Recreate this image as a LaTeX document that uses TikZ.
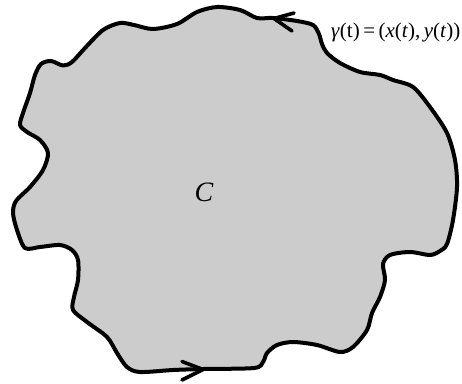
\documentclass[tikz,border=0pt]{standalone}
\usepackage{fontspec}
\setmainfont{Liberation Serif}
\definecolor{regiongray}{RGB}{204,204,204}
\tikzset{
  outline/.style={line width=4pt, line join=round, line cap=round, fill=regiongray, draw=black},
  arrowv/.style={line width=3.6pt, line join=miter, line cap=round},
  lbl/.style={inner sep=0pt, font=\fontsize{21}{24}\selectfont},
  biglbl/.style={inner sep=0pt, font=\fontsize{28}{32}\selectfont\itshape}
}
\begin{document}
\begin{tikzpicture}[x=1pt,y=-1pt]
\useasboundingbox (0,0) rectangle (462,383);
\draw[outline] plot[smooth cycle, tension=0.5] coordinates {
(35,75) (41,64) (51,61) (63,65.5) (72,62) (85,48) (103,30) (120,23) (134,25) (153,29)
(177,24) (197,12) (217,7) (240,10) (257,18) (273,18) (297,21) (313,25) (319,34) (322,44)
(327,53) (340,63) (360,72) (380,75) (393,80) (413,87) (430,107) (447,133) (455,160) (457,187)
(453,220) (447,244) (440,251) (430,255) (410,252) (390,255) (383,264) (385,280) (380,297) (372,313)
(367,330) (353,347) (340,352) (317,345) (293,342) (277,345) (267,353) (263,362) (254,368)
(203,369) (173,370) (140,372) (127,367) (117,353) (107,337) (87,322) (73,310) (74,297) (78,280)
(78,260) (72,250) (60,245) (40,247) (25,248) (17,230) (13,213) (16,201) (30,187) (43,170)
(48,153) (40,140) (27,132) (20,125) (23,113) (30,93)};
% direction arrows
\coordinate (ta) at (294,13);
\coordinate (tt) at (274,18.5);
\coordinate (tb) at (292,31);
\draw[arrowv] (ta) -- (tt) -- (tb);
\coordinate (ba) at (182,361.5);
\coordinate (bt) at (203,369.5);
\coordinate (bb) at (182,380);
\draw[arrowv] (ba) -- (bt) -- (bb);
% labels
\node[lbl, anchor=west] (gam) at (331,32) {\textit{γ}(t)\,=\,(\textit{x}(\textit{t}),\,\textit{y}(\textit{t}))};
\node[biglbl] (cl) at (204,192) {C};
\end{tikzpicture}
\end{document}
